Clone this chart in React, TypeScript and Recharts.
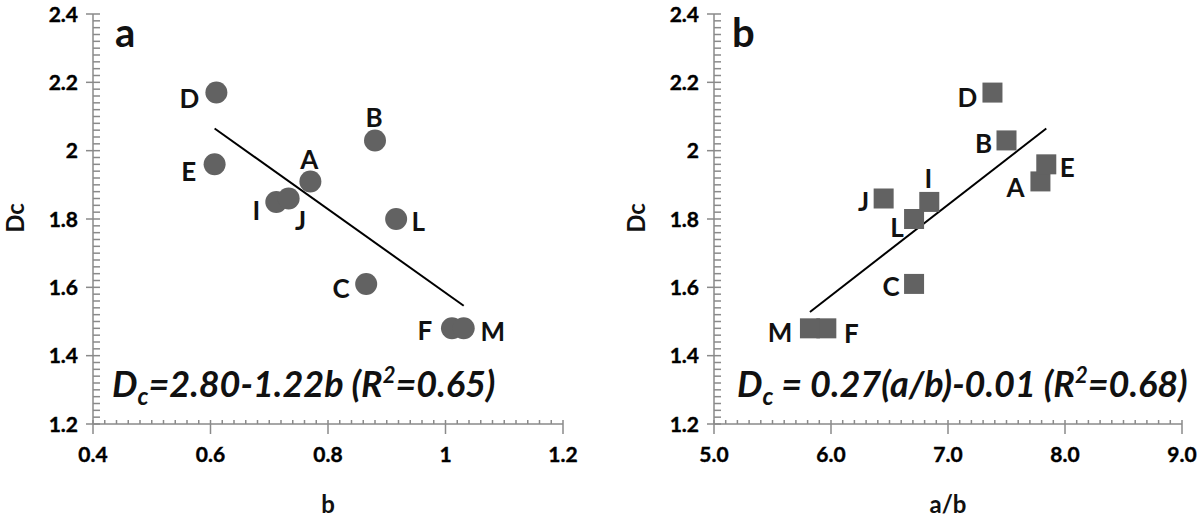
import React from 'react';
import { ScatterChart, Scatter, XAxis, YAxis, ReferenceLine } from 'recharts';

// samples, shared Dc values
const sampleNames = ['A', 'B', 'C', 'D', 'E', 'F', 'I', 'J', 'L', 'M'];
const dcValues = [1.91, 2.03, 1.61, 2.17, 1.96, 1.48, 1.85, 1.86, 1.8, 1.48];
const bValues = [0.77, 0.88, 0.865, 0.61, 0.607, 1.011, 0.712, 0.733, 0.916, 1.031];
const abValues = [7.79, 7.5, 6.71, 7.38, 7.84, 5.96, 6.84, 6.45, 6.71, 5.82];

// fitted lines as drawn (end points)
const fitB = [{ x: 0.607, y: 2.065 }, { x: 1.031, y: 1.546 }];
const fitAB = [{ x: 5.82, y: 1.528 }, { x: 7.84, y: 2.065 }];

const bTicks = [0.4, 0.6, 0.8, 1.0, 1.2];
const bTickLabels = ['0.4', '0.6', '0.8', '1', '1.2'];
const abTicks = [5, 6, 7, 8, 9];
const abTickLabels = ['5.0', '6.0', '7.0', '8.0', '9.0'];
const dcTicks = [1.2, 1.4, 1.6, 1.8, 2.0, 2.2, 2.4];
const dcTickLabels = ['1.2', '1.4', '1.6', '1.8', '2', '2.2', '2.4'];

const dataB = sampleNames.map((name, i) => ({ name, x: bValues[i], y: dcValues[i] }));
const dataAB = sampleNames.map((name, i) => ({ name, x: abValues[i], y: dcValues[i] }));

// label offsets from marker centre (px)
const offsetsB: Record<string, [number, number]> = {
  A: [-1, -22], B: [-1, -23], C: [-25, 5], D: [-27, 6], E: [-26, 7],
  F: [-27, 2], I: [-20, 9], J: [12, 22], L: [22, 3], M: [29, 3],
};
const offsetsAB: Record<string, [number, number]> = {
  A: [-25, 6], B: [-23, 3], C: [-23, 3], D: [-25, 5], E: [21, 3],
  F: [25, 5], I: [-1, -23], J: [-20, 3], L: [-17, 9], M: [-30, 4],
};

const FONT = 'Lato, "Open Sans", sans-serif';
const AXIS = '#8a8a8a';
const MARK = '#626262';

const withMinor = (majors: number[], steps: number) => {
  const out: number[] = [];
  for (let i = 0; i < majors.length - 1; i++) {
    const step = (majors[i + 1] - majors[i]) / steps;
    for (let k = 0; k < steps; k++) out.push(Math.round((majors[i] + k * step) * 1000) / 1000);
  }
  out.push(majors[majors.length - 1]);
  return out;
};

const labelFor = (v: number, majors: number[], labels: string[]) => {
  const i = majors.findIndex((m) => Math.abs(m - v) < 1e-6);
  return i >= 0 ? labels[i] : null;
};

const tickText = {
  fill: '#000', stroke: '#000', strokeWidth: 0.4,
  fontFamily: FONT, fontWeight: 700, fontSize: 21,
};

const makeXTick = (majors: number[], labels: string[]) => (props: any) => {
  const { x, y, payload } = props;
  const label = labelFor(payload.value, majors, labels);
  return (
    <g>
      <line x1={x} x2={x} y1={y - 4} y2={label ? y + 10 : y} stroke={AXIS} strokeWidth={1.5} />
      {label && (
        <text x={x} y={y + 38} textAnchor="middle" style={tickText}>
          {label}
        </text>
      )}
    </g>
  );
};

const makeYTick = (majors: number[], labels: string[]) => (props: any) => {
  const { x, y, payload } = props;
  const label = labelFor(payload.value, majors, labels);
  return (
    <g>
      <line x1={label ? x - 7 : x} x2={x + 7} y1={y} y2={y} stroke={AXIS} strokeWidth={1.5} />
      {label && (
        <text x={x - 15} y={y} dy="0.36em" textAnchor="end" style={tickText}>
          {label}
        </text>
      )}
    </g>
  );
};

const pointLabel = (cx: number, cy: number, name: string, off: [number, number]) => (
  <text x={cx + off[0]} y={cy + off[1]} dy="0.36em" textAnchor="middle" fontFamily={FONT} fontWeight="bold" fontSize={26} fill="#111">
    {name}
  </text>
);

const CircleMark = (props: any) => {
  const { cx, cy, payload } = props;
  return (
    <g>
      <circle cx={cx} cy={cy} r={11} fill={MARK} />
      {pointLabel(cx, cy, payload.name, offsetsB[payload.name])}
    </g>
  );
};

const SquareMark = (props: any) => {
  const { cx, cy, payload } = props;
  return (
    <g>
      <rect x={cx - 10} y={cy - 10} width={20} height={20} fill={MARK} />
      {pointLabel(cx, cy, payload.name, offsetsAB[payload.name])}
    </g>
  );
};

const Panel = ({ data, domain, majors, labels, fit, shape, yWidth, rightPad, topPad }: any) => (
  <ScatterChart width={600} height={527} margin={{ top: topPad, right: rightPad, bottom: 0, left: 0 }}>
    <XAxis
      type="number"
      dataKey="x"
      domain={domain}
      ticks={withMinor(majors, 10)}
      interval={0}
      height={103}
      tickSize={0}
      tickMargin={0}
      tickLine={false}
      axisLine={{ stroke: AXIS, strokeWidth: 1.5 }}
      tick={makeXTick(majors, labels)}
      allowDataOverflow
    />
    <YAxis
      type="number"
      dataKey="y"
      domain={[1.2, 2.4]}
      ticks={withMinor(dcTicks, 10)}
      interval={0}
      width={yWidth}
      tickSize={0}
      tickMargin={0}
      tickLine={false}
      axisLine={{ stroke: AXIS, strokeWidth: 1.5 }}
      tick={makeYTick(dcTicks, dcTickLabels)}
      allowDataOverflow
    />
    <Scatter data={data} shape={shape} isAnimationActive={false} />
    <ReferenceLine segment={fit} stroke="#000" strokeWidth={2} />
  </ScatterChart>
);

export default function App() {
  return (
    <div style={{ position: 'absolute', left: 0, top: 0, width: 1200, height: 527, background: '#fff' }}>
      <div style={{ position: 'absolute', left: 0, top: 0 }}>
        <Panel data={dataB} domain={[0.4, 1.2]} majors={bTicks} labels={bTickLabels}
          fit={fitB} shape={CircleMark} yWidth={93} rightPad={37} topPad={14} />
      </div>
      <div style={{ position: 'absolute', left: 600, top: 0 }}>
        <Panel data={dataAB} domain={[5, 9]} majors={abTicks} labels={abTickLabels}
          fit={fitAB} shape={SquareMark} yWidth={114} rightPad={18} topPad={14} />
      </div>
      <svg width={1200} height={527} style={{ position: 'absolute', left: 0, top: 0, pointerEvents: 'none' }} fontFamily={FONT} fill="#111">
        <text x={115} y={47} fontSize={40} fontWeight="bold">a</text>
        <text x={732} y={47} fontSize={40} fontWeight="bold">b</text>

        <text x={112} y={397} fontSize={36} fontWeight="bold" fontStyle="italic">
          D<tspan fontSize={24} dy={8}>c</tspan>
          <tspan dy={-8}>=2.80-1.22b (R</tspan>
          <tspan fontSize={22} dy={-14}>2</tspan>
          <tspan dy={14}>=0.65)</tspan>
        </text>
        <text x={737} y={397} fontSize={36} fontWeight="bold" fontStyle="italic">
          D<tspan fontSize={24} dy={8}>c</tspan>
          <tspan dy={-8}> = 0.27(a/b)-0.01 (R</tspan>
          <tspan fontSize={22} dy={-14}>2</tspan>
          <tspan dy={14}>=0.68)</tspan>
        </text>

        <text x={328} y={513} fontSize={24} fontWeight="bold" textAnchor="middle">b</text>
        <text x={948} y={513} fontSize={24} fontWeight="bold" textAnchor="middle">a/b</text>
        <text transform="translate(15,218) rotate(-90)" dy="0.36em" fontSize={24} fontWeight="bold" textAnchor="middle">Dc</text>
        <text transform="translate(636,218) rotate(-90)" dy="0.36em" fontSize={24} fontWeight="bold" textAnchor="middle">Dc</text>
      </svg>
    </div>
  );
}
